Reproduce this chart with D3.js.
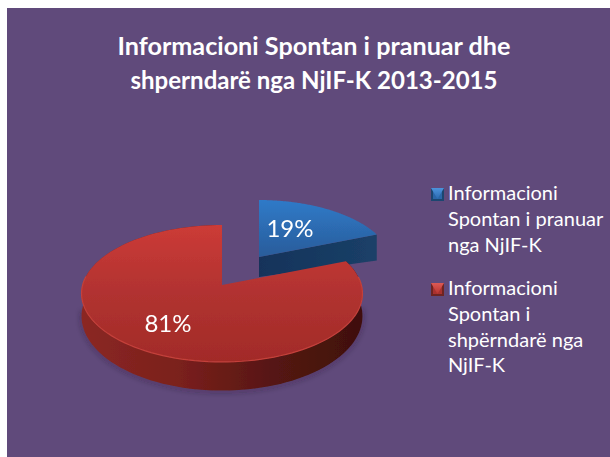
<!DOCTYPE html>
<html><head><meta charset="utf-8">
<script src="https://cdnjs.cloudflare.com/ajax/libs/d3/7.8.5/d3.min.js"></script>
<style>html,body{margin:0;padding:0;background:#fff}svg{display:block}text{font-family:Lato,"Open Sans",sans-serif;fill:#fff}</style>
</head><body><svg id="c" width="610" height="457"></svg>
<script>
const categories = ["Informacioni Spontan i pranuar nga NjIF-K", "Informacioni Spontan i shpërndarë nga NjIF-K"];
const values = [19, 81];
const valueLabels = ["19%", "81%"];
const legendLines = [["Informacioni", "Spontan i pranuar", "nga NjIF-K"], ["Informacioni", "Spontan i", "shpërndarë nga", "NjIF-K"]];
const titleLines = ["Informacioni Spontan i pranuar dhe", "shperndarë nga NjIF-K 2013-2015"];

const svg = d3.select("#c");
const defs = svg.append("defs");
function grad(id, stops, x2, y2) {
  const g = defs.append("linearGradient").attr("id", id).attr("x1", 0).attr("y1", 0).attr("x2", x2).attr("y2", y2);
  stops.forEach(([o, c]) => g.append("stop").attr("offset", o).attr("stop-color", c));
}
grad("blueTop", [[0, "#2f7ac8"], [1, "#2a5c9a"]], 0, 1);
grad("redTop", [[0, "#cc3b37"], [0.5, "#b13230"], [1, "#a22b28"]], 0, 1);
grad("blueWall", [[0, "#12335a"], [1, "#1b4068"]], 1, 0);
grad("redWall", [[0, "#8b2723"], [0.35, "#7a201c"], [0.7, "#541612"], [1, "#3f100d"]], 1, 0);
grad("swBlue", [[0, "#4d93dc"], [1, "#2a6ab0"]], 0, 1);
grad("swRed", [[0, "#dc5a55"], [1, "#b8332f"]], 0, 1);
defs.append("filter").attr("id", "soft").attr("x", "-10%").attr("y", "-10%").attr("width", "120%").attr("height", "120%")
  .append("feGaussianBlur").attr("stdDeviation", 0.6);
defs.append("filter").attr("id", "shadow").attr("x", "-10%").attr("y", "-10%").attr("width", "120%").attr("height", "130%")
  .append("feGaussianBlur").attr("stdDeviation", 2.5);

svg.append("rect").attr("x", 7).attr("y", 8).attr("width", 603).attr("height", 449).attr("fill", "#604a7b");

const titleWidths = [393, 367];
svg.selectAll("text.title").data(titleLines).join("text").attr("class", "title")
  .attr("x", 314).attr("y", (d, i) => 55 + i * 34).attr("text-anchor", "middle")
  .attr("font-size", 25).attr("font-weight", 700)
  .attr("textLength", (d, i) => titleWidths[i]).attr("lengthAdjust", "spacingAndGlyphs").text(d => d);

// perspective projection of the tilted disc
const persp = 0.124, radiusX = 139.4, radiusY = 67.4;
const project = (a, o) => {
  const u = Math.sin(a), v = Math.cos(a), w = 1 + persp * v;
  return [o.x + o.s * radiusX * u / w, o.y - o.s * radiusY * v / w, w];
};
const depth = (w, o) => o.d / (w * w);
const line = d3.line();
const slices = d3.pie().sort(null)(values);
const offsets = [{x: 259, y: 257, s: 0.95, d: 21}, {x: 222, y: 285, s: 1, d: 22}];
const arcPts = (s, o) => d3.range(0, 121).map(i => project(s.startAngle + (s.endAngle - s.startAngle) * i / 120, o));

const g = svg.append("g").attr("filter", "url(#soft)");

// blue slice
(function () {
  const s = slices[0], o = offsets[0], pts = arcPts(s, o), e = pts[pts.length - 1];
  g.append("path").attr("fill", "url(#blueWall)").attr("d", line([[o.x, o.y], [e[0], e[1]], [e[0], e[1] + 26], [o.x, o.y + 20]]) + "Z");
  g.append("path").attr("fill", "url(#blueTop)").attr("d", line([[o.x, o.y], ...pts.map(p => [p[0], p[1]])]) + "Z");
})();

// red slice
(function () {
  const s = slices[1], o = offsets[1], pts = arcPts(s, o);
  const upper = pts.map(p => [p[0], p[1]]);
  const lower = pts.map(p => [p[0], p[1] + depth(p[2], o)]).reverse();
  // soft shadow under the front rim only
  g.append("path").attr("fill", "none").attr("stroke", "#2b1a2e").attr("stroke-width", 3).attr("opacity", 0.35)
    .attr("filter", "url(#shadow)")
    .attr("d", line(pts.filter(p => p[2] < 1).map(p => [p[0], p[1] + depth(p[2], o) + 1])));
  g.append("path").attr("fill", "url(#redWall)").attr("d", line([...upper, ...lower]) + "Z");
  g.append("path").attr("fill", "url(#redTop)").attr("d", line([[o.x, o.y], ...upper]) + "Z");
  g.append("path").attr("fill", "none").attr("stroke", "#c4403a").attr("stroke-width", 1.2)
    .attr("d", line(pts.filter(p => p[2] < 1.02).map(p => [p[0], p[1]])));
})();

const labelPos = [[290, 236.5], [168, 331.5]];
svg.selectAll("text.val").data(valueLabels).join("text").attr("class", "val")
  .attr("x", (d, i) => labelPos[i][0]).attr("y", (d, i) => labelPos[i][1])
  .attr("text-anchor", "middle").attr("font-size", 24).text(d => d);

// legend
const legendY = [188, 283], swatch = 13;
const leg = svg.selectAll("g.leg").data(categories).join("g").attr("class", "leg")
  .attr("transform", (d, i) => `translate(431,${legendY[i]})`);
leg.append("title").text(d => d);
leg.append("rect").attr("width", swatch).attr("height", swatch).attr("fill", (d, i) => i ? "#6e2421" : "#1c4670");
leg.append("rect").attr("x", 2).attr("y", 1).attr("width", swatch - 4).attr("height", swatch - 3)
  .attr("fill", (d, i) => i ? "#a8312e" : "#2a66a8");
leg.append("path").attr("fill", (d, i) => i ? "url(#swRed)" : "url(#swBlue)")
  .attr("d", line([[0, 0], [swatch, 0], [swatch / 2, swatch - 2]]) + "Z");
leg.each(function (d, i) {
  d3.select(this).selectAll("text").data(legendLines[i]).join("text")
    .attr("x", 17).attr("y", (t, j) => 12 + j * 25.8).attr("font-size", 20).text(t => t);
});
</script></body></html>
